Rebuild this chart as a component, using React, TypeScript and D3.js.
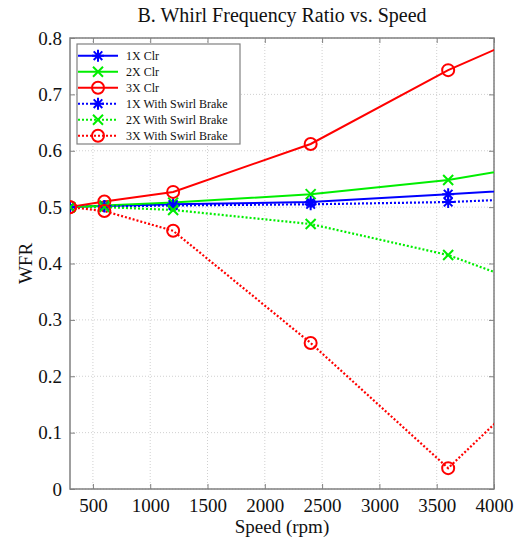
import React, { useEffect, useRef } from "react";
import * as d3 from "d3";

// speeds (rpm) where measurements were taken; last point lies past the axis and gets clipped
const speeds = [300, 600, 1200, 2400, 3600, 4800];

const clr1x = [0.5, 0.502, 0.505, 0.509, 0.523, 0.537];
const clr2x = [0.5, 0.503, 0.508, 0.523, 0.548, 0.59];
const clr3x = [0.5, 0.51, 0.527, 0.612, 0.743, 0.85];
const sb1x = [0.5, 0.501, 0.503, 0.505, 0.509, 0.519];
const sb2x = [0.5, 0.5, 0.495, 0.47, 0.415, 0.325];
const sb3x = [0.5, 0.493, 0.458, 0.259, 0.037, 0.27];

const xTicks = [500, 1000, 1500, 2000, 2500, 3000, 3500, 4000];
const yTicks = [0, 0.1, 0.2, 0.3, 0.4, 0.5, 0.6, 0.7, 0.8];

const series = [
  { name: "1X Clr", values: clr1x, color: "#0000ff", marker: "star", dashed: false },
  { name: "2X Clr", values: clr2x, color: "#00ee00", marker: "x", dashed: false },
  { name: "3X Clr", values: clr3x, color: "#ff0000", marker: "o", dashed: false },
  { name: "1X With Swirl Brake", values: sb1x, color: "#0000ff", marker: "star", dashed: true },
  { name: "2X With Swirl Brake", values: sb2x, color: "#00ee00", marker: "x", dashed: true },
  { name: "3X With Swirl Brake", values: sb3x, color: "#ff0000", marker: "o", dashed: true },
];

const FONT = "'Liberation Serif', 'Times New Roman', serif";

function drawMarker(g: any, kind: string, cx: number, cy: number, color: string) {
  if (kind === "o") {
    g.append("circle")
      .attr("cx", cx).attr("cy", cy).attr("r", 6)
      .attr("fill", "none").attr("stroke", color).attr("stroke-width", 2);
  } else if (kind === "x") {
    const s = 5;
    g.append("path")
      .attr("d", `M${cx - s},${cy - s}L${cx + s},${cy + s}M${cx - s},${cy + s}L${cx + s},${cy - s}`)
      .attr("stroke", color).attr("stroke-width", 2);
  } else {
    const s = 6, d = 4.3;
    g.append("path")
      .attr("d", `M${cx},${cy - s}L${cx},${cy + s}M${cx - s},${cy}L${cx + s},${cy}` +
        `M${cx - d},${cy - d}L${cx + d},${cy + d}M${cx - d},${cy + d}L${cx + d},${cy - d}`)
      .attr("stroke", color).attr("stroke-width", 2);
  }
}

export default function App() {
  const ref = useRef<SVGSVGElement>(null);

  useEffect(() => {
    const svg = d3.select(ref.current);
    svg.selectAll("*").remove();

    const margin = { top: 38, right: 33, bottom: 53, left: 70 };
    const width = 527 - margin.left - margin.right;
    const height = 542 - margin.top - margin.bottom;

    const x = d3.scaleLinear().domain([300, 4000]).range([0, width]);
    const y = d3.scaleLinear().domain([0, 0.8]).range([height, 0]);

    svg.append("defs").append("clipPath").attr("id", "plotclip")
      .append("rect").attr("width", width).attr("height", height);

    const g = svg.append("g").attr("transform", `translate(${margin.left},${margin.top})`);

    // grid
    g.append("g").selectAll("line").data(xTicks).enter().append("line")
      .attr("x1", (d) => x(d)).attr("x2", (d) => x(d))
      .attr("y1", 0).attr("y2", height)
      .attr("stroke", "#d0d0d0").attr("stroke-dasharray", "1,2");
    g.append("g").selectAll("line").data(yTicks).enter().append("line")
      .attr("y1", (d) => y(d)).attr("y2", (d) => y(d))
      .attr("x1", 0).attr("x2", width)
      .attr("stroke", "#d0d0d0").attr("stroke-dasharray", "1,2");

    // box
    g.append("rect").attr("width", width).attr("height", height)
      .attr("fill", "none").attr("stroke", "#808080").attr("stroke-width", 1.5);

    // axes (ticks inward)
    const xAxis = g.append("g").attr("transform", `translate(0,${height})`)
      .call(d3.axisBottom(x).tickValues(xTicks).tickSize(-5).tickPadding(10).tickFormat(d3.format("d")));
    const xAxisTop = g.append("g")
      .call(d3.axisTop(x).tickValues(xTicks).tickSize(-5).tickFormat(() => ""));
    const yAxis = g.append("g")
      .call(d3.axisLeft(y).tickValues(yTicks).tickSize(-5).tickPadding(8)
        .tickFormat((d: any) => (d === 0 ? "0" : d3.format(".1f")(d))));
    const yAxisRight = g.append("g").attr("transform", `translate(${width},0)`)
      .call(d3.axisRight(y).tickValues(yTicks).tickSize(-5).tickFormat(() => ""));
    [xAxis, xAxisTop, yAxis, yAxisRight].forEach((a) => {
      a.attr("font-family", FONT).attr("font-size", 19);
      a.select(".domain").remove();
      a.selectAll("line").attr("stroke", "#808080");
      a.selectAll("text").attr("fill", "#111");
    });

    // series
    const plot = g.append("g").attr("clip-path", "url(#plotclip)");
    const line = d3.line<number>().x((d, i) => x(speeds[i])).y((d) => y(d));
    series.forEach((s) => {
      plot.append("path")
        .datum(s.values)
        .attr("d", line)
        .attr("fill", "none")
        .attr("stroke", s.color)
        .attr("stroke-width", s.dashed ? 2.2 : 2)
        .attr("stroke-dasharray", s.dashed ? "2,2" : null);
    });
    series.forEach((s) => {
      s.values.forEach((v, i) => {
        if (speeds[i] <= 4000) drawMarker(plot, s.marker, x(speeds[i]), y(v), s.color);
      });
    });

    // legend
    const lg = g.append("g").attr("transform", "translate(7,6)");
    lg.append("rect").attr("width", 163).attr("height", 100)
      .attr("fill", "white").attr("stroke", "#808080").attr("stroke-width", 1.2);
    series.forEach((s, i) => {
      const cy = 11.7 + i * 16;
      lg.append("line").attr("x1", 1).attr("x2", 41).attr("y1", cy).attr("y2", cy)
        .attr("stroke", s.color).attr("stroke-width", 2)
        .attr("stroke-dasharray", s.dashed ? "2,2" : null);
      drawMarker(lg, s.marker, 21, cy, s.color);
      lg.append("text").attr("x", 49).attr("y", cy + 4)
        .attr("font-family", FONT).attr("font-size", 12).attr("fill", "#111")
        .text(s.name);
    });

    // title and labels
    svg.append("text").attr("x", margin.left + width / 2).attr("y", 22)
      .attr("text-anchor", "middle").attr("font-family", FONT).attr("font-size", 20)
      .attr("fill", "#111").text("B. Whirl Frequency Ratio vs. Speed");
    svg.append("text").attr("x", margin.left + width / 2).attr("y", 533)
      .attr("text-anchor", "middle").attr("font-family", FONT).attr("font-size", 19)
      .attr("fill", "#111").text("Speed (rpm)");
    svg.append("text")
      .attr("transform", `translate(32,${margin.top + height / 2}) rotate(-90)`)
      .attr("text-anchor", "middle").attr("font-family", FONT).attr("font-size", 19)
      .attr("fill", "#111").text("WFR");
  }, []);

  return (
    <svg ref={ref} width={527} height={542}
      style={{ position: "absolute", left: 0, top: 0, background: "white" }} />
  );
}
